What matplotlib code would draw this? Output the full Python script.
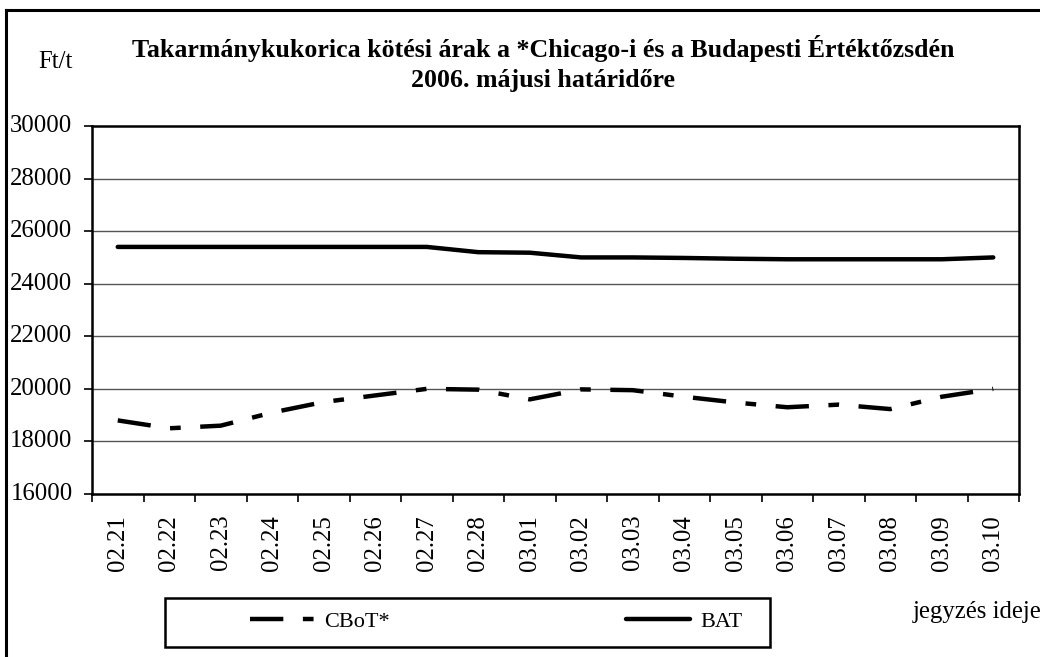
import matplotlib
matplotlib.use("Agg")
import matplotlib.pyplot as plt
from matplotlib.lines import Line2D
from matplotlib.patches import Rectangle

dates = ["02.21", "02.22", "02.23", "02.24", "02.25", "02.26", "02.27", "02.28", "03.01",
         "03.02", "03.03", "03.04", "03.05", "03.06", "03.07", "03.08", "03.09", "03.10"]
cbot = [18800, 18500, 18600, 19100, 19500, 19750, 20000, 19970, 19600,
        19980, 19950, 19700, 19480, 19300, 19400, 19230, 19700, 20000]
bat = [25400, 25400, 25400, 25400, 25400, 25400, 25400, 25200, 25180,
       25000, 25000, 24980, 24950, 24930, 24930, 24930, 24930, 25000]
yticks = [16000, 18000, 20000, 22000, 24000, 26000, 28000, 30000]
series_names = ["CBoT*", "BAT"]

plt.rcParams['font.family'] = ['Liberation Serif', 'DejaVu Serif']

W, H = 1040, 657
fig = plt.figure(figsize=(W / 100, H / 100), dpi=100)
ax = fig.add_axes([92 / W, 1 - 494 / H, (1019 - 92) / W, (494 - 126) / H])

x = list(range(len(dates)))
l1, = ax.plot(x, cbot, color='black', lw=3.2, linestyle=(0, (7.5, 4.4, 2.4, 4.4)),
              dash_capstyle='butt', solid_capstyle='round')
l2, = ax.plot(x, bat, color='black', lw=3.2, solid_capstyle='round', solid_joinstyle='round')

ax.set_xlim(-0.5, len(dates) - 0.5)
ax.set_ylim(16000, 30000)
ax.set_yticks(yticks)
ax.set_yticklabels([str(v) for v in yticks], fontsize=17.8)
ax.set_xticks(x)
ax.set_xticklabels(dates, rotation=90, fontsize=17.8)
ax.set_xticks([i - 0.5 for i in range(len(dates) + 1)], minor=True)
ax.tick_params(axis='x', which='major', length=0, pad=15)
ax.tick_params(axis='x', which='minor', length=6, width=1.2, direction='out')
ax.tick_params(axis='y', which='major', length=6, width=1.2, direction='out', pad=8)
for lab in ax.get_yticklabels():
    lab.set_verticalalignment('center')

for v in yticks[1:-1]:
    ax.axhline(v, color='#555555', lw=1.0, zorder=0)
for s in ax.spines.values():
    s.set_linewidth(1.8)
    s.set_color('black')

fig.text(543 / W, 1 - 48 / H, "Takarmánykukorica kötési árak a *Chicago-i és a Budapesti Értéktőzsdén",
         ha='center', va='center', fontsize=18.6, fontweight='bold')
fig.text(543 / W, 1 - 81 / H, "2006. májusi határidőre",
         ha='center', va='center', fontsize=18.6, fontweight='bold')
fig.text(38 / W, 1 - 62 / H, "Ft/t", ha='left', va='center', fontsize=17.8)
fig.text(913 / W, 1 - 612 / H, "jegyzés ideje", ha='left', va='center', fontsize=17.8)

# legend box
fig.add_artist(Rectangle((165 / W, 1 - 647 / H), 605 / W, 49 / H, transform=fig.transFigure,
                         fill=False, edgecolor='black', lw=1.8))
leg = fig.legend([l1, l2], series_names, ncol=2, frameon=False, fontsize=16,
                 loc='center left', bbox_to_anchor=(250 / W, 1 - 622 / H),
                 handlelength=2.9, handletextpad=0.45, columnspacing=10.6, borderpad=0,
                 borderaxespad=0)

# outer chart border
fig.add_artist(Line2D([6 / W, 6 / W], [0, 1 - 10 / H], transform=fig.transFigure, color='black', lw=2.2))
fig.add_artist(Line2D([6 / W, 1], [1 - 10 / H, 1 - 10 / H], transform=fig.transFigure, color='black', lw=2.2))

fig.savefig("out.png", dpi=100)
